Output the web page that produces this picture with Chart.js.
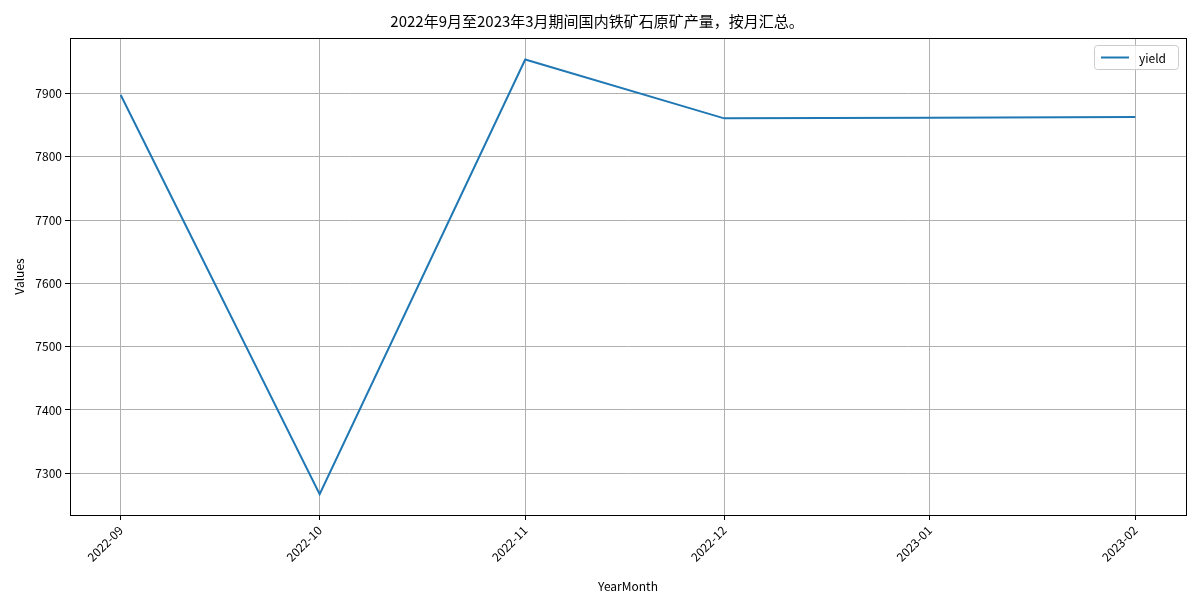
<!DOCTYPE html>
<html><head><meta charset="utf-8">
<script src="https://cdn.jsdelivr.net/npm/chart.js@4"></script>
<style>body{margin:0;background:#fff}#w{width:1200px;height:600px}</style>
</head><body><div id="w"><canvas id="c"></canvas></div>
<script>
const categories = ['2022-09','2022-10','2022-11','2022-12','2023-01','2023-02'];
const yieldValues = [7898, 7267, 7954, 7861, 7862, 7863];
const yTicks = [7300,7400,7500,7600,7700,7800,7900];
const base = Date.UTC(2022,8,1);
const dayOf = s => { const [y,m]=s.split('-').map(Number); return (Date.UTC(y,m-1,1)-base)/86400000; };
const xs = categories.map(dayOf);
const F = "'Noto Sans CJK SC', 'DejaVu Sans', sans-serif";
const legendPlugin = {
  id:'lg',
  afterDraw(ch){
    const ctx=ch.ctx, a=ch.chartArea;
    ctx.save();
    ctx.strokeStyle='#000';ctx.lineWidth=1;
    ctx.strokeRect(Math.round(a.left)+0.5,Math.round(a.top)+0.5,Math.round(a.right-a.left),Math.round(a.bottom-a.top));
    const w=84,h=24,x=a.right-w-8,y=a.top+7;
    ctx.fillStyle='rgba(255,255,255,0.8)';ctx.strokeStyle='#ccc';
    ctx.beginPath();ctx.roundRect(x+0.5,y+0.5,w,h,3);ctx.fill();ctx.stroke();
    ctx.strokeStyle='#1f77b4';ctx.lineWidth=2;
    ctx.beginPath();ctx.moveTo(x+7,y+12.5);ctx.lineTo(x+35,y+12.5);ctx.stroke();
    ctx.fillStyle='#000';ctx.font='12px '+F;ctx.textBaseline='middle';
    ctx.fillText('yield',x+45,y+13);
    ctx.restore();
  }
};
new Chart(document.getElementById('c'),{
  type:'line',
  data:{datasets:[{label:'yield',data:xs.map((x,i)=>({x,y:yieldValues[i]})),borderColor:'#1f77b4',borderWidth:2,pointRadius:0,tension:0}]},
  options:{
    responsive:true,maintainAspectRatio:false,animation:false,
    layout:{padding:{top:0,right:14,left:8,bottom:6}},
    plugins:{legend:{display:false},tooltip:{enabled:false},
      title:{display:true,text:'2022年9月至2023年3月期间国内铁矿石原矿产量，按月汇总。',color:'#000',font:{family:F,size:15,weight:'normal'},padding:{top:12,bottom:8}}},
    scales:{
      x:{type:'linear',min:-7.65,max:160.65,
        afterBuildTicks(ax){ax.ticks=xs.map(v=>({value:v}));},
        afterFit(ax){ax.height=79;},
        ticks:{color:'#000',font:{family:F,size:12},maxRotation:45,minRotation:45,autoSkip:false,
          callback:(v)=>{const i=xs.indexOf(v);return i>=0?categories[i]:'';}},
        grid:{color:'#b0b0b0',tickLength:5,tickColor:'#000'},border:{color:'#000'},
        title:{display:true,text:'YearMonth',color:'#000',font:{family:F,size:12},padding:{top:0,bottom:0}}},
      y:{min:7234,max:7988,
        afterBuildTicks(ax){ax.ticks=yTicks.map(v=>({value:v}));},
        afterFit(ax){ax.width=62;},
        ticks:{color:'#000',font:{family:F,size:12},callback:v=>String(v)},
        grid:{color:'#b0b0b0',tickLength:5,tickColor:'#000'},border:{color:'#000'},
        title:{display:true,text:'Values',color:'#000',font:{family:F,size:12}}}
    }
  },
  plugins:[legendPlugin]
});
</script></body></html>
